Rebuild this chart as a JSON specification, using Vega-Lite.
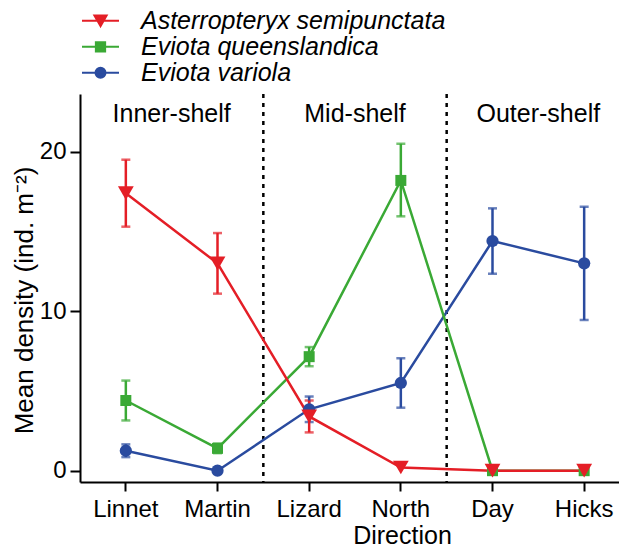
{
  "$schema": "https://vega.github.io/schema/vega-lite/v6.json",
  "width": 539,
  "height": 388,
  "autosize": {"type": "none"},
  "padding": {"left": 80, "top": 94, "right": 0, "bottom": 68},
  "background": "white",
  "config": {
    "font": "Liberation Sans",
    "view": {"stroke": null},
    "axis": {
      "grid": false,
      "domainColor": "black",
      "domainWidth": 2,
      "tickColor": "black",
      "tickWidth": 2,
      "labelColor": "black",
      "titleColor": "black",
      "labelFontSize": 24,
      "titleFontSize": 25,
      "titleFontWeight": "normal",
      "labelFont": "Liberation Sans",
      "titleFont": "Liberation Sans"
    },
    "axisX": {"tickSize": 9, "labelPadding": 6, "titlePadding": 2, "titleX": 322, "labelFlush": false, "labelAngle": 0},
    "axisY": {"tickSize": 10, "labelPadding": 4, "titlePadding": 2, "titleFontSize": 26, "titleY": 206},
    "legend": {"labelLimit": 0}
  },
  "datasets": {
    "density": [
      {"site": "Linnet", "species": "Eviota variola", "mean": 1.25, "lower": 0.85, "upper": 1.65},
      {"site": "Martin", "species": "Eviota variola", "mean": 0, "lower": null, "upper": null},
      {"site": "Lizard", "species": "Eviota variola", "mean": 3.85, "lower": 3.05, "upper": 4.65},
      {"site": "North", "species": "Eviota variola", "mean": 5.5, "lower": 3.95, "upper": 7.05},
      {"site": "Day", "species": "Eviota variola", "mean": 14.4, "lower": 12.35, "upper": 16.45},
      {"site": "Hicks", "species": "Eviota variola", "mean": 13.0, "lower": 9.45, "upper": 16.55},
      {"site": "Linnet", "species": "Eviota queenslandica", "mean": 4.4, "lower": 3.15, "upper": 5.65},
      {"site": "Martin", "species": "Eviota queenslandica", "mean": 1.4, "lower": 1.1, "upper": 1.7},
      {"site": "Lizard", "species": "Eviota queenslandica", "mean": 7.15, "lower": 6.55, "upper": 7.75},
      {"site": "North", "species": "Eviota queenslandica", "mean": 18.2, "lower": 15.95, "upper": 20.5},
      {"site": "Day", "species": "Eviota queenslandica", "mean": 0, "lower": null, "upper": null},
      {"site": "Hicks", "species": "Eviota queenslandica", "mean": 0, "lower": null, "upper": null},
      {"site": "Linnet", "species": "Asterropteryx semipunctata", "mean": 17.4, "lower": 15.3, "upper": 19.5},
      {"site": "Martin", "species": "Asterropteryx semipunctata", "mean": 13.0, "lower": 11.1, "upper": 14.9},
      {"site": "Lizard", "species": "Asterropteryx semipunctata", "mean": 3.4, "lower": 2.4, "upper": 4.4},
      {"site": "North", "species": "Asterropteryx semipunctata", "mean": 0.2, "lower": null, "upper": null},
      {"site": "Day", "species": "Asterropteryx semipunctata", "mean": 0, "lower": null, "upper": null},
      {"site": "Hicks", "species": "Asterropteryx semipunctata", "mean": 0, "lower": null, "upper": null}
    ],
    "boundaries": [
      {"site": "Lizard", "boundary": "Inner/Mid"},
      {"site": "Day", "boundary": "Mid/Outer"}
    ],
    "shelves": [
      {"shelf": "Inner-shelf", "site": "Martin"},
      {"shelf": "Mid-shelf", "site": "North"},
      {"shelf": "Outer-shelf", "site": "Hicks"}
    ]
  },
  "layer": [
    {
      "data": {"name": "boundaries"},
      "mark": {"type": "rule", "strokeDash": [4, 5], "strokeWidth": 2.5, "color": "black"},
      "encoding": {
        "x": {
          "field": "site", "type": "nominal", "bandPosition": 0, "title": "Direction",
          "scale": {"type": "band", "domain": ["Linnet", "Martin", "Lizard", "North", "Day", "Hicks"], "paddingInner": 0, "paddingOuter": 0, "rangeMax": 550}
        }
      }
    },
    {
      "data": {"name": "shelves"},
      "mark": {"type": "text", "fontSize": 25, "font": "Liberation Sans", "baseline": "alphabetic", "align": "center", "color": "black"},
      "encoding": {
        "x": {"field": "site", "type": "nominal", "bandPosition": 0, "title": "Direction"},
        "y": {"datum": 21.85, "type": "quantitative", "title": "Mean density (ind. m⁻²)"},
        "text": {"field": "shelf"}
      }
    },
    {
      "data": {"name": "density"},
      "mark": {"type": "line", "strokeWidth": 2.5},
      "encoding": {
        "x": {"field": "site", "type": "nominal", "title": "Direction"},
        "y": {
          "field": "mean", "type": "quantitative", "title": "Mean density (ind. m⁻²)",
          "scale": {"domain": [-0.71, 23.62], "nice": false, "zero": false},
          "axis": {"values": [0, 10, 20]}
        },
        "order": {"value": null},
        "color": {
          "field": "species", "type": "nominal",
          "scale": {"domain": ["Asterropteryx semipunctata", "Eviota queenslandica", "Eviota variola"], "range": ["#E41E26", "#3AA935", "#2A4B9F"]},
          "legend": {
            "orient": "none", "legendX": 1, "legendY": -86, "title": null,
            "labelFontSize": 25, "labelFontStyle": "italic", "labelFont": "Liberation Sans", "labelColor": "black", "labelLimit": 0,
            "symbolSize": 1369, "symbolStrokeWidth": 2, "clipHeight": 25.5, "rowPadding": 0, "labelOffset": 21, "padding": 0,
            "encoding": {
              "symbols": {
                "shape": {"value": {"expr": "datum.value == 'Asterropteryx semipunctata' ? 'M-1,0H1M0,0.29L-0.33,-0.29L0.33,-0.29Z' : datum.value == 'Eviota queenslandica' ? 'M-1,0H1M-0.25,-0.25H0.25V0.25H-0.25Z' : 'M-1,0H1M-0.27,0A0.27,0.27 0 1,0 0.27,0A0.27,0.27 0 1,0 -0.27,0Z'"}},
                "fill": {"value": {"expr": "scale('color', datum.value)"}},
                "stroke": {"value": {"expr": "scale('color', datum.value)"}},
                "strokeWidth": {"value": 2},
                "opacity": {"value": 1},
                "size": {"value": 1369}
              }
            }
          }
        }
      }
    },
    {
      "data": {"name": "density"},
      "transform": [{"filter": "datum.lower != null"}],
      "mark": {"type": "errorbar", "ticks": {"size": 9, "thickness": 2.5}, "rule": {"strokeWidth": 2.5}},
      "encoding": {
        "x": {"field": "site", "type": "nominal", "title": "Direction"},
        "y": {"field": "lower", "type": "quantitative", "title": "Mean density (ind. m⁻²)"},
        "y2": {"field": "upper"},
        "color": {"field": "species", "type": "nominal"}
      }
    },
    {
      "data": {"name": "density"},
      "transform": [{"filter": "datum.species == 'Eviota variola'"}],
      "mark": {"type": "point", "filled": true, "opacity": 1, "shape": "circle", "size": 150},
      "encoding": {
        "x": {"field": "site", "type": "nominal", "title": "Direction"},
        "y": {"field": "mean", "type": "quantitative", "title": "Mean density (ind. m⁻²)"},
        "color": {"field": "species", "type": "nominal"}
      }
    },
    {
      "data": {"name": "density"},
      "transform": [{"filter": "datum.species == 'Eviota queenslandica'"}],
      "mark": {"type": "point", "filled": true, "opacity": 1, "shape": "square", "size": 121},
      "encoding": {
        "x": {"field": "site", "type": "nominal", "title": "Direction"},
        "y": {"field": "mean", "type": "quantitative", "title": "Mean density (ind. m⁻²)"},
        "color": {"field": "species", "type": "nominal"}
      }
    },
    {
      "data": {"name": "density"},
      "transform": [{"filter": "datum.species == 'Asterropteryx semipunctata'"}],
      "mark": {"type": "point", "filled": true, "opacity": 1, "shape": "triangle-down", "size": 250},
      "encoding": {
        "x": {"field": "site", "type": "nominal", "title": "Direction"},
        "y": {"field": "mean", "type": "quantitative", "title": "Mean density (ind. m⁻²)"},
        "color": {"field": "species", "type": "nominal"}
      }
    }
  ]
}
